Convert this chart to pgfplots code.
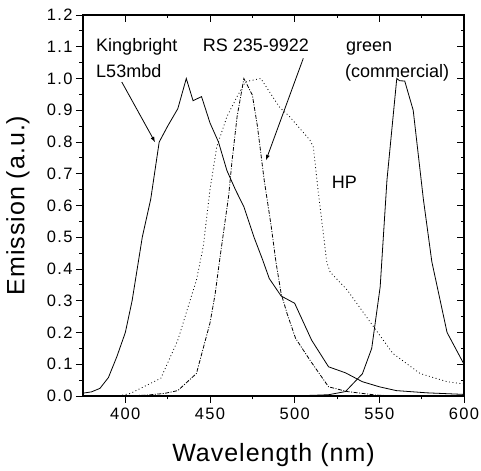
\documentclass[border=0pt]{standalone}
\usepackage{fontspec}
\setmainfont{Liberation Sans}
\newfontfamily\ticksp[LetterSpace=8]{Liberation Sans}
\newfontfamily\labsp[LetterSpace=4]{Liberation Sans}
\usepackage{pgfplots}
\pgfplotsset{compat=1.18}

\begin{document}
\begin{tikzpicture}
\useasboundingbox (0,0) rectangle (481bp,471bp);
\pgfplotsset{
  emis/.style={
    at={(83bp,75bp)}, anchor=south west,
    scale only axis, width=381bp, height=381bp,
    xmin=375, xmax=600, ymin=0, ymax=1.2,
    xtick={400,450,500,550,600},
    ytick={0,0.1,0.2,0.3,0.4,0.5,0.6,0.7,0.8,0.9,1.0,1.1,1.2},
    minor x tick num=1, minor y tick num=1,
    major tick length=7bp, minor tick length=3.5bp,
    axis line style={line width=1.4bp},
    every tick/.style={black, line width=0.9bp},
    /pgf/number format/assume math mode=true,
    tick label style={font=\ticksp\fontsize{16.5bp}{19bp}\selectfont},
  }
}
\begin{axis}[emis,
  tick align=outside, xtick pos=bottom, ytick pos=left,
  yticklabel style={/pgf/number format/.cd, fixed, fixed zerofill, precision=1},
  xticklabel style={yshift=-1.5bp},
  xlabel={Wavelength (nm)}, ylabel={Emission (a.u.)},
  label style={font=\labsp\fontsize{25bp}{28bp}\selectfont},
  xlabel style={at={(axis description cs:0.5,-0.155)}, anchor=center},
  ylabel style={at={(axis description cs:-0.171,0.5)}, anchor=center},
  clip=false,
]
% Kingbright L53mbd
\addplot[black, line width=0.8bp] coordinates {
(375,0.009)(380,0.013)(385,0.024)(390,0.058)(395,0.124)(400,0.2)(404,0.30)
(407,0.40)(410,0.50)(415,0.62)(420,0.80)(425,0.85)(431,0.905)(436,1.0)
(440,0.93)(445,0.943)(450,0.86)(455,0.80)(460,0.71)(465,0.65)(470,0.596)
(476,0.50)(481,0.43)(485,0.37)(492,0.315)(500,0.292)(510,0.176)(520,0.092)
(530,0.073)(540,0.045)(550,0.029)(560,0.017)(578,0.01)(600,0.005)};
% green (commercial)
\addplot[black, line width=0.8bp] coordinates {
(480,0)(500,0.001)(510,0.002)(520,0.004)(530,0.014)(540,0.07)(545.5,0.15)
(550.5,0.344)(554.5,0.68)(560.3,1.0)(562,0.993)(565,0.992)(570,0.90)
(576,0.62)(581,0.423)(590,0.20)(600,0.10)};
% HP
\addplot[black, line width=0.8bp, dash pattern=on 0.9bp off 2.6bp] coordinates {
(390,0)(396,0)(403,0.008)(421,0.056)(431,0.176)(437,0.28)(442,0.365)
(446,0.47)(450,0.65)(454,0.785)(460,0.88)(466,0.943)(471,0.99)(480,1.0)
(491,0.91)(497,0.88)(509,0.806)(511,0.785)(514,0.64)(519,0.42)(521,0.39)
(531,0.334)(545,0.23)(558,0.134)(574,0.071)(590,0.045)(600,0.038)};
% RS 235-9922
\addplot[black, line width=0.8bp, dash pattern=on 4bp off 1.5bp on 1bp off 1.5bp] coordinates {
(400,0)(413,0.003)(423,0.008)(431,0.017)(442,0.071)(450,0.23)(453,0.32)
(456,0.44)(461,0.63)(463,0.74)(466,0.88)(470,1.0)(475,0.948)(478,0.85)
(482,0.68)(486,0.54)(489,0.42)(492,0.323)(495.5,0.26)(500.5,0.182)
(509,0.113)(520,0.029)(531,0.014)(548,0.003)(560,0)(600,0)};

\begin{scope}[font=\fontsize{18bp}{21bp}\selectfont]
\node[anchor=base west, inner sep=0] at (axis cs:382.7,1.0835) {Kingbright};
\node[anchor=base west, inner sep=0] at (axis cs:382.7,1.0047) {L53mbd};
\node[anchor=base west, inner sep=0] at (axis cs:445.7,1.0835) {RS 235-9922};
\node[anchor=base west, inner sep=0] at (axis cs:530.3,1.0835) {green};
\node[anchor=base west, inner sep=0] at (axis cs:529.7,1.0047) {(commercial)};
\node[anchor=base west, inner sep=0] at (axis cs:521.9,0.654) {HP};
\end{scope}
\draw[-latex, line width=0.8bp] (axis cs:397.9,0.989) -- (axis cs:417.5,0.80);
\draw[-latex, line width=0.8bp] (axis cs:505.1,1.0636) -- (axis cs:483.1,0.743);
\end{axis}
\begin{axis}[emis,
  tick align=inside, xtick pos=top, ytick pos=right,
  xticklabels={}, yticklabels={},
]
\end{axis}
\end{tikzpicture}
\end{document}
